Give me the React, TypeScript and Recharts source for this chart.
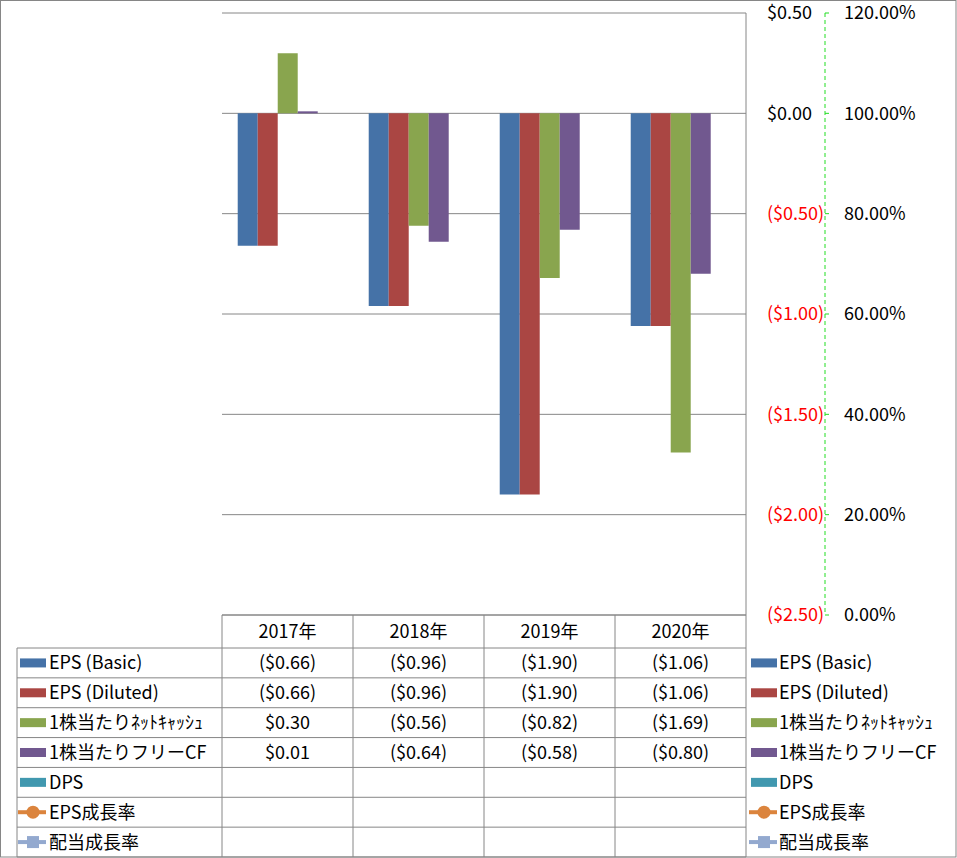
import React from 'react';
import { ComposedChart, Bar, Line, XAxis, YAxis, CartesianGrid } from 'recharts';

const years = ['2017年', '2018年', '2019年', '2020年'];
const epsBasic = [-0.66, -0.96, -1.9, -1.06];
const epsDiluted = [-0.66, -0.96, -1.9, -1.06];
const netCash = [0.3, -0.56, -0.82, -1.69];
const freeCF = [0.01, -0.64, -0.58, -0.8];
const dps: (number | null)[] = [null, null, null, null];
const epsGrowth: (number | null)[] = [null, null, null, null];
const divGrowth: (number | null)[] = [null, null, null, null];

const leftTicks = [-2.5, -2, -1.5, -1, -0.5, 0, 0.5];
const rightTicks = [0, 0.2, 0.4, 0.6, 0.8, 1.0, 1.2];

const seriesInfo = [
  { key: 'epsBasic', name: 'EPS (Basic)', color: '#4572A7', kind: 'bar', values: epsBasic },
  { key: 'epsDiluted', name: 'EPS (Diluted)', color: '#AA4643', kind: 'bar', values: epsDiluted },
  { key: 'netCash', name: '1株当たりﾈｯﾄｷｬｯｼｭ', color: '#89A54E', kind: 'bar', values: netCash },
  { key: 'freeCF', name: '1株当たりフリーCF', color: '#71588F', kind: 'bar', values: freeCF },
  { key: 'dps', name: 'DPS', color: '#4198AF', kind: 'bar', values: dps },
  { key: 'epsGrowth', name: 'EPS成長率', color: '#DB843D', kind: 'lineCircle', values: epsGrowth },
  { key: 'divGrowth', name: '配当成長率', color: '#93A9CF', kind: 'lineSquare', values: divGrowth },
];

const data = years.map((y, i) => {
  const row: any = { year: y };
  seriesInfo.forEach((s) => {
    row[s.key] = s.values[i];
  });
  return row;
});

const FONT = '"Noto Sans CJK JP", "Liberation Sans", sans-serif';
const FS = 18;
const GRID = '#868686';
const AXIS2 = '#22DD22';

const fmtMoney = (v: number | null) => {
  if (v === null || v === undefined) return '';
  const a = Math.abs(v).toFixed(2);
  return v < 0 ? `($${a})` : `$${a}`;
};

const W = 957;
const H = 858;
const PLOT_L = 222;
const PLOT_R = 746;
const PLOT_T = 13;
const PLOT_B = 615;

const LeftTick = (props: any) => {
  const { y, payload } = props;
  const v = payload.value;
  return (
    <text x={767} y={y} dy="0.36em" textAnchor="start" fontFamily={FONT} fontSize={FS} fill={v < 0 ? '#FF0000' : '#000000'}>
      {fmtMoney(v)}
    </text>
  );
};

const RightTick = (props: any) => {
  const { y, payload } = props;
  return (
    <g>
      <line x1={825} x2={829} y1={y} y2={y} stroke={AXIS2} />
      <text x={844} y={y} dy="0.36em" textAnchor="start" fontFamily={FONT} fontSize={FS} fill="#000000">
        {(payload.value * 100).toFixed(2) + '%'}
      </text>
    </g>
  );
};

const LegendKey = ({ x, cy, s }: { x: number; cy: number; s: any }) => {
  if (s.kind === 'bar') {
    return <rect x={x} y={cy - 4.5} width={26} height={9} fill={s.color} />;
  }
  const cx = x + 13;
  return (
    <g>
      <line x1={x - 2} x2={x + 26} y1={cy} y2={cy} stroke={s.color} strokeWidth={4} />
      {s.kind === 'lineCircle' ? (
        <circle cx={cx} cy={cy} r={6.5} fill={s.color} />
      ) : (
        <rect x={cx - 6} y={cy - 6} width={12} height={12} fill={s.color} />
      )}
    </g>
  );
};

const DataTable = () => {
  const colW = (PLOT_R - PLOT_L) / years.length;
  const headTop = PLOT_B;
  const rowTop = 648;
  const bottom = 857;
  const rowH = (bottom - rowTop) / seriesInfo.length;
  const tableLeft = 17;
  const lines: React.ReactNode[] = [];
  lines.push(<line key="ht" x1={PLOT_L} x2={PLOT_R} y1={headTop} y2={headTop} stroke={GRID} />);
  for (let r = 0; r <= seriesInfo.length; r++) {
    const y = rowTop + r * rowH;
    lines.push(<line key={'h' + r} x1={tableLeft} x2={PLOT_R} y1={y} y2={y} stroke={GRID} />);
  }
  lines.push(<line key="vl" x1={tableLeft} x2={tableLeft} y1={rowTop} y2={bottom} stroke={GRID} />);
  for (let c = 0; c <= years.length; c++) {
    const x = PLOT_L + c * colW;
    lines.push(<line key={'v' + c} x1={x} x2={x} y1={headTop} y2={bottom} stroke={GRID} />);
  }
  return (
    <svg width={W} height={H} style={{ position: 'absolute', left: 0, top: 0, pointerEvents: 'none' }}>
      {lines}
      {years.map((y, i) => (
        <text key={y} x={PLOT_L + colW * (i + 0.5)} y={(headTop + rowTop) / 2} dy="0.36em" textAnchor="middle" fontFamily={FONT} fontSize={FS} fill="#000">
          {y}
        </text>
      ))}
      {seriesInfo.map((s, r) => {
        const cy = rowTop + rowH * (r + 0.5);
        return (
          <g key={s.key}>
            <LegendKey x={20} cy={cy} s={s} />
            <text x={49} y={cy} dy="0.36em" fontFamily={FONT} fontSize={FS} fill="#000">
              {s.name}
            </text>
            {s.values.map((v: number | null, i: number) => (
              <text key={i} x={PLOT_L + colW * (i + 0.5)} y={cy} dy="0.36em" textAnchor="middle" fontFamily={FONT} fontSize={FS} fill="#000">
                {fmtMoney(v)}
              </text>
            ))}
            <LegendKey x={751} cy={cy} s={s} />
            <text x={779} y={cy} dy="0.36em" fontFamily={FONT} fontSize={FS} fill="#000">
              {s.name}
            </text>
          </g>
        );
      })}
      <rect x={0.5} y={0.5} width={W - 1.5} height={H - 1.5} fill="none" stroke={GRID} />
    </svg>
  );
};

export default function App() {
  return (
    <div style={{ position: 'absolute', left: 0, top: 0, width: W, height: H, background: '#fff' }}>
      <ComposedChart
        width={W}
        height={H}
        data={data}
        margin={{ top: PLOT_T, left: PLOT_L, right: 0, bottom: H - PLOT_B }}
        barCategoryGap="12%"
        barGap={0}
      >
        <CartesianGrid yAxisId="left" vertical={false} stroke={GRID} />
        <XAxis dataKey="year" hide />
        <YAxis
          yAxisId="left"
          orientation="right"
          type="number"
          width={79}
          domain={[-2.5, 0.5]}
          ticks={leftTicks}
          interval={0}
          axisLine={{ stroke: GRID }}
          tickLine={false}
          tick={<LeftTick />}
        />
        <YAxis
          yAxisId="right"
          orientation="right"
          type="number"
          width={132}
          domain={[0, 1.2]}
          allowDataOverflow
          ticks={rightTicks}
          interval={0}
          axisLine={{ stroke: AXIS2, strokeDasharray: '4 3' }}
          tickLine={false}
          tick={<RightTick />}
        />
        {seriesInfo
          .filter((s) => s.kind === 'bar')
          .map((s) => (
            <Bar key={s.key} yAxisId="left" dataKey={s.key} name={s.name} fill={s.color} isAnimationActive={false} />
          ))}
        {seriesInfo
          .filter((s) => s.kind !== 'bar')
          .map((s) => (
            <Line key={s.key} yAxisId="right" dataKey={s.key} name={s.name} stroke={s.color} strokeWidth={3} isAnimationActive={false} />
          ))}
      </ComposedChart>
      <DataTable />
    </div>
  );
}
